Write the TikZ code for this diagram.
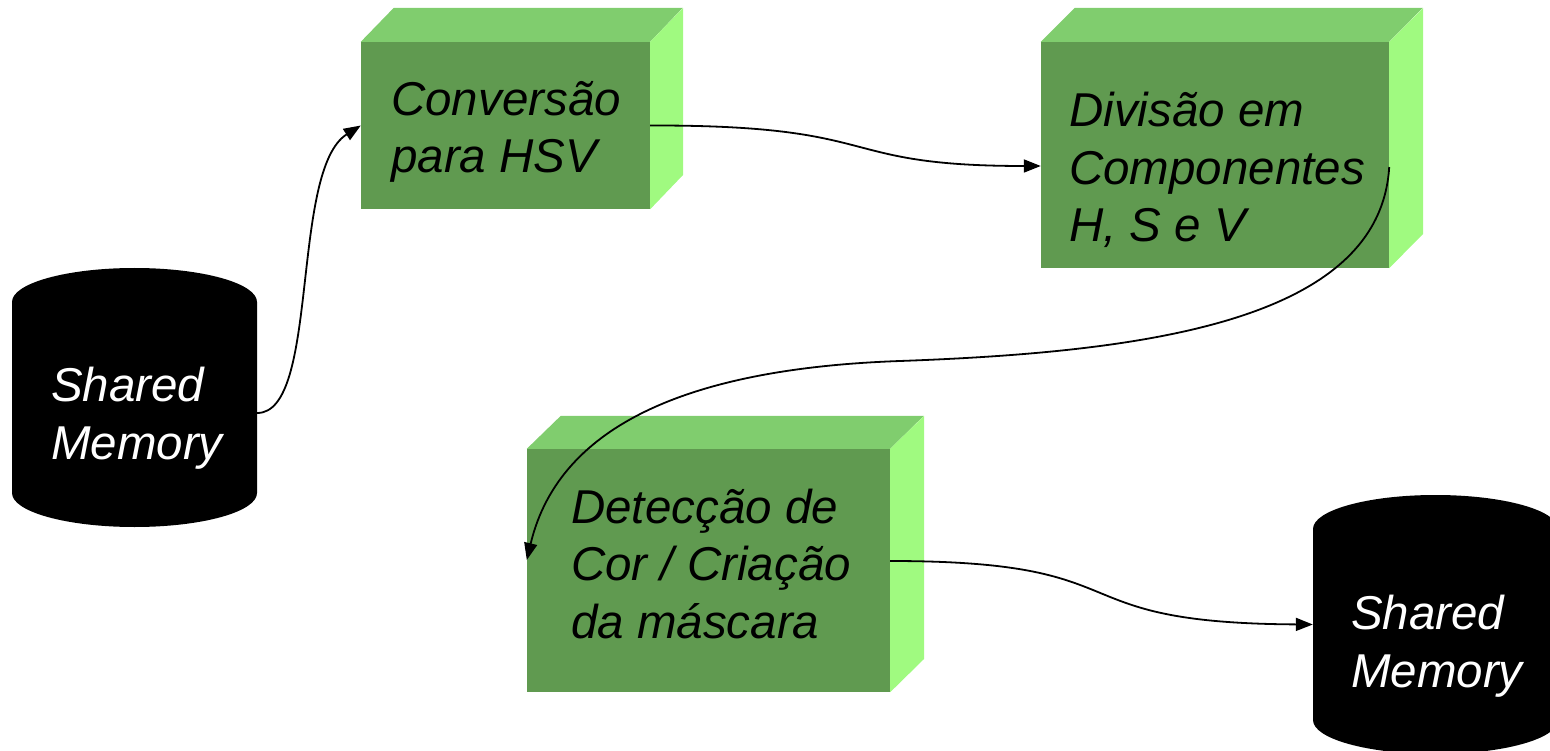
\documentclass[tikz,border=0pt]{standalone}
\usepackage{fontspec}
\setmainfont{Liberation Sans}
\usetikzlibrary{arrows.meta}
\definecolor{frontgreen}{HTML}{609A50}
\definecolor{topgreen}{HTML}{80CD6E}
\definecolor{sidegreen}{HTML}{A0FA80}
\begin{document}
\begin{tikzpicture}[x=1pt,y=-1pt,
  frontface/.style={fill=frontgreen, draw=none, inner sep=0},
  topface/.style={fill=topgreen, draw=none},
  sideface/.style={fill=sidegreen, draw=none},
  cylbody/.style={fill=black, draw=none},
  anchorbox/.style={inner sep=0, draw=none},
  lbl/.style={font=\fontsize{47.5}{57.5}\selectfont\itshape, align=left, anchor=base west, inner sep=0},
  conn/.style={draw=black, line width=1.8pt, -{Triangle[length=17pt,width=13pt]}}
]
\useasboundingbox (0,0) rectangle (1550,751);
\clip (0,0) rectangle (1550,751);

% left cylinder
\fill[cylbody] (12,302) arc[start angle=180,end angle=0,x radius=122.5pt,y radius=34pt]
  -- (257,493) arc[start angle=0,end angle=-180,x radius=122.5pt,y radius=34pt] -- cycle;
\node[anchorbox, minimum width=245pt, minimum height=259pt] (sm1) at (134.5,397.5) {};

% right cylinder
\fill[cylbody] (1313,529) arc[start angle=180,end angle=0,x radius=122.5pt,y radius=34pt]
  -- (1558,720) arc[start angle=0,end angle=-180,x radius=122.5pt,y radius=34pt] -- cycle;
\node[anchorbox, minimum width=245pt, minimum height=259pt] (sm2) at (1435.5,624.5) {};

% box 1
\node[frontface, minimum width=289pt, minimum height=167pt] (b1) at (505.5,125.5) {};
\fill[topface] (b1.north west) -- ++(33,-34) -- ++(289,0) -- (b1.north east) -- cycle;
\fill[sideface] (b1.north east) -- ++(33,-34) -- ++(0,167) -- (b1.south east) -- cycle;

% box 2
\node[frontface, minimum width=348pt, minimum height=226pt] (b2) at (1215,155) {};
\fill[topface] (b2.north west) -- ++(34,-34) -- ++(348,0) -- (b2.north east) -- cycle;
\fill[sideface] (b2.north east) -- ++(34,-34) -- ++(0,226) -- (b2.south east) -- cycle;

% box 3
\node[frontface, minimum width=363pt, minimum height=243pt] (b3) at (708.5,570.5) {};
\fill[topface] (b3.north west) -- ++(34,-33) -- ++(363,0) -- (b3.north east) -- cycle;
\fill[sideface] (b3.north east) -- ++(34,-33) -- ++(0,243) -- (b3.south east) -- cycle;

% texts (anchor = baseline of last line)
\node[lbl, text=white] (t1) at (51,459) {Shared\\Memory};
\node[lbl, text=white] (t2) at (1351,687) {Shared\\Memory};
\node[lbl] (t3) at (391,173) {Conversão\\para HSV};
\node[lbl] (t4) at (1069,242) {Divisão em\\Componentes\\H, S e V};
\node[lbl] (t5) at (571,638) {Detecção de\\Cor / Criação\\da máscara};

% connectors
\draw[conn] ([yshift=-15.5pt]sm1.east) .. controls (320,413) and (290,170) .. (b1.west);
\draw[conn] (b1.east) .. controls (890,125) and (830,166) .. ([yshift=-11pt]b2.west);
\draw[conn] ([yshift=-12pt]b2.east) .. controls (1380,320) and (1150,352) .. (900,361)
  .. controls (700,368) and (560,420) .. ([yshift=10.5pt]b3.west);
\draw[conn] ([yshift=9.5pt]b3.east) .. controls (1150,561) and (1050,623) .. (sm2.west);
\end{tikzpicture}
\end{document}
